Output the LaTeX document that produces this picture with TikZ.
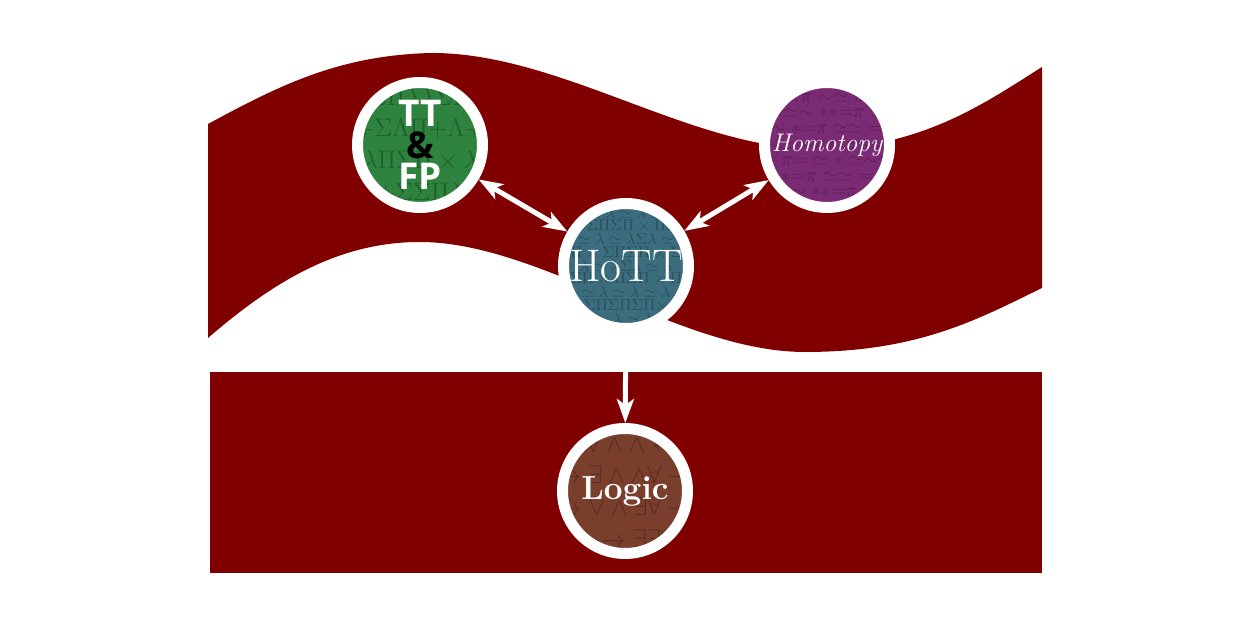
\documentclass[tikz,border=0pt]{standalone}
\usepackage{fontspec}
\newfontfamily\ttfpfont{Open Sans}
\usetikzlibrary{arrows.meta}
\definecolor{band}{HTML}{800000}
\definecolor{ttgreen}{HTML}{2E843E}
\definecolor{hottblue}{HTML}{3B6D7F}
\definecolor{homotopypurple}{HTML}{7B2B74}
\definecolor{logicbrown}{HTML}{7A3E2C}
\newcommand{\ttfprows}{$\Sigma\Pi\lambda\lambda\Sigma\Pi$\\$\Lambda{+}\Sigma\Lambda\Pi{+}\Lambda{+}\Sigma$\\$\times\lambda\Pi\Sigma\Pi\times\lambda\Pi$\\$\Sigma{+}\Sigma\Sigma\Pi\lambda\Sigma$}
\newcommand{\hottrows}{$\lambda\simeq\lambda\simeq\lambda\simeq\lambda$\\$\times\Sigma\Pi\Sigma\Pi\times\Pi\Sigma$\\$\simeq\lambda\simeq\lambda\Sigma\lambda\simeq$\\$\Pi\times\Sigma\Pi\Sigma\Pi\times\Sigma$\\$\lambda\simeq\lambda\Sigma\lambda\simeq\lambda$\\$\Sigma\Pi\times\Pi\Sigma\Pi\times\Pi$\\$\simeq\lambda\simeq\lambda\simeq\lambda$\\$\Sigma\Pi\Sigma\Pi\Sigma\Pi\times$\\$\lambda\simeq\lambda\simeq\lambda\simeq$}
\newcommand{\homotopyrows}{$\simeq\pi\pi\sim\simeq\pi\sim$\\$\sim\simeq\sim{*}{*}{=}\pi\simeq$\\${=}\sim{*}{=}\pi\simeq\simeq{=}\simeq$\\$\sim\simeq{=}\pi{*}\simeq\sim{=}$\\$\sim\pi{=}\simeq{*}\simeq\sim\simeq$\\$\simeq{*}{=}\pi\simeq\simeq{=}\sim$\\$\sim\sim{*}{*}{=}\pi\sim$}
\newcommand{\logicrows}{$\exists\forall\wedge\wedge\leftarrow$\\$\to\exists\wedge\wedge\forall\to$\\$\to\vee\wedge\exists\forall\to$\\$\leftarrow\to\exists\exists\forall$}
\begin{document}
\begin{tikzpicture}[x=0.02cm,y=0.02cm,
topic/.style={circle,draw=white,line width=0.22cm,minimum size=2.5cm,inner sep=0pt,text=white,fill=#1},
pattern text/.style={text=black,opacity=0.27,align=center,inner sep=0pt},
link/.style={white,line width=0.1cm,>={Stealth[length=0.48cm,width=0.34cm,inset=0.12cm]},<->}
]
\useasboundingbox (0,0) rectangle (1250,625);

% wavy band and lower block
\fill[band] (208,501) .. controls (280,540) and (340,570) .. (432,572)
  .. controls (560,572) and (690,477) .. (815,476)
  .. controls (920,476) and (985,522) .. (1042,558)
  -- (1042,337) .. controls (980,307) and (920,273) .. (805,273)
  .. controls (680,273) and (540,383) .. (420,383)
  .. controls (340,383) and (275,345) .. (208,287) -- cycle;
\fill[band] (210,52) rectangle (1042,253);

\node[topic=ttgreen,align=center,font=\ttfpfont\bfseries\fontsize{21}{17.8}\selectfont,
  path picture={\node[pattern text,font=\fontsize{14}{18}\selectfont] (ttfppat) at (path picture bounding box.center) {\ttfprows};}]
  (ttfp) at (420,480) {TT\\\textcolor{black}{\&}\\FP};
\node[topic=hottblue,font=\fontsize{26}{30}\selectfont,
  path picture={\node[pattern text,font=\fontsize{9}{7}\selectfont] (hottpat) at (path picture bounding box.center) {\hottrows};}]
  (hott) at (626,359) {HoTT};
\node[topic=homotopypurple,font=\itshape\fontsize{14.5}{16}\selectfont,
  path picture={\node[pattern text,font=\fontsize{11}{9}\selectfont] (homotopypat) at (path picture bounding box.center) {\homotopyrows};}]
  (homotopy) at (827,480) {Homotopy};
\node[topic=logicbrown,font=\bfseries\fontsize{19}{22}\selectfont,
  path picture={\node[pattern text,font=\fontsize{14}{18}\selectfont] (logicpat) at (path picture bounding box.center) {\logicrows};}]
  (logic) at (625,134) {Logic};

\draw[link] (ttfp) -- (hott);
\draw[link] (hott) -- (homotopy);
\draw[link,->] (hott) -- (logic);
\end{tikzpicture}
\end{document}
